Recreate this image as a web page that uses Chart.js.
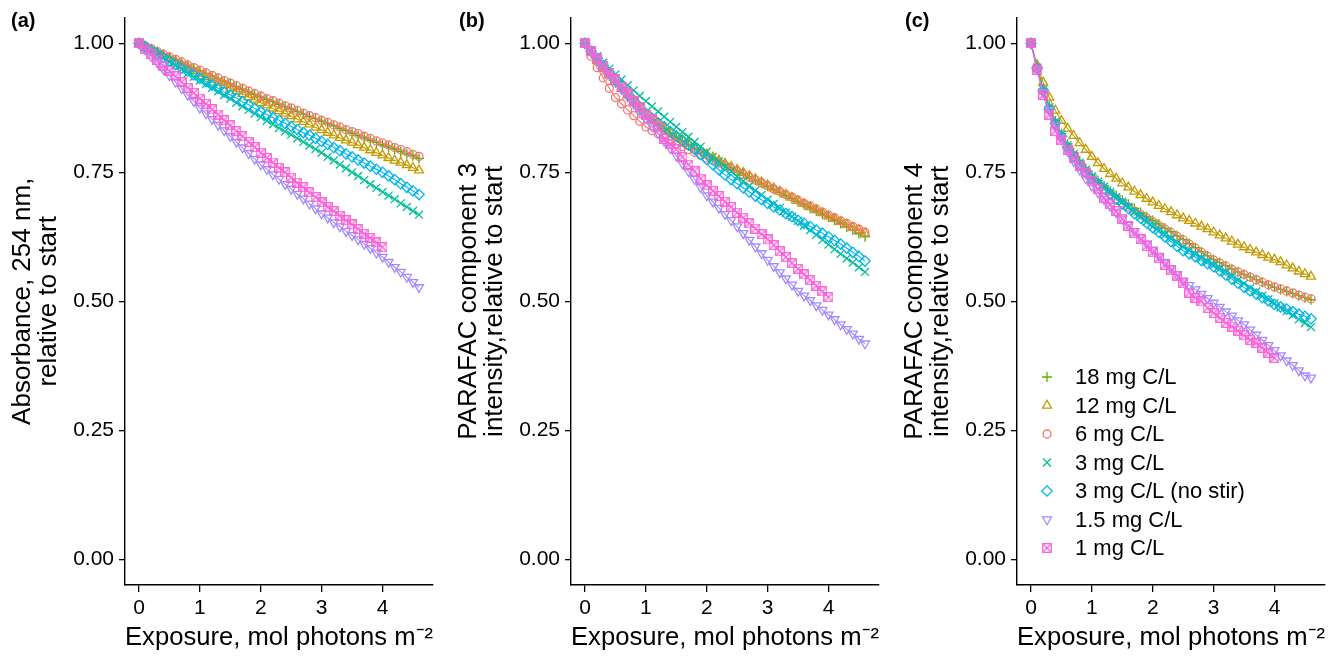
<!DOCTYPE html>
<html>
<head>
<meta charset="utf-8">
<script src="https://cdn.jsdelivr.net/npm/chart.js@4.4.1/dist/chart.umd.min.js"></script>
<style>
  body { margin: 0; background: #fff; width: 1333px; height: 660px; position: relative; overflow: hidden; }
  .panel { position: absolute; top: 0; }
  .tag { position: absolute; top: 8px; font: bold 20px "Liberation Sans", Arial, sans-serif; line-height: 24px; color: #000; }
</style>
</head>
<body>
<canvas id="chartA" class="panel" style="left:0" width="444" height="660"></canvas>
<canvas id="chartB" class="panel" style="left:446px" width="444" height="660"></canvas>
<canvas id="chartC" class="panel" style="left:892px" width="441" height="660"></canvas>
<div class="tag" style="left:11px">(a)</div>
<div class="tag" style="left:459px">(b)</div>
<div class="tag" style="left:905px">(c)</div>
<script>
// ---------- data ----------

const seriesNames = ["18 mg C/L", "12 mg C/L", "6 mg C/L", "3 mg C/L", "3 mg C/L (no stir)", "1.5 mg C/L", "1 mg C/L"];
const seriesColors = ["#53B400", "#C49A00", "#F8766D", "#00C094", "#00B6EB", "#A58AFF", "#FB61D7"];

const xTicks = [0, 1, 2, 3, 4];
const yTicks = [0, 0.25, 0.5, 0.75, 1];

// exposure, mol photons m-2
const exposure = [0, 0.1, 0.2, 0.3, 0.4, 0.5, 0.6, 0.7, 0.8, 0.9, 1.0,
  1.1, 1.2, 1.3, 1.4, 1.5, 1.6, 1.7, 1.8, 1.9, 2.0,
  2.1, 2.2, 2.3, 2.4, 2.5, 2.6, 2.7, 2.8, 2.9, 3.0,
  3.1, 3.2, 3.3, 3.4, 3.5, 3.6, 3.7, 3.8, 3.9, 4.0,
  4.1, 4.2, 4.3, 4.4, 4.5, 4.6];

// (a) absorbance at 254 nm
const absorb18 = [1, .995, .989, .984, .979, .973, .968, .963, .958, .952, .947,
  .942, .937, .932, .927, .922, .916, .911, .906, .901, .896,
  .891, .887, .882, .877, .873, .868, .863, .858, .854, .849,
  .844, .840, .835, .831, .826, .821, .817, .812, .808, .803,
  .799, .795, .790, .786, .782, .777];
const absorb12 = [1, .994, .988, .982, .976, .971, .965, .959, .953, .947, .941,
  .935, .930, .924, .919, .913, .907, .902, .896, .891, .885,
  .880, .874, .869, .864, .859, .853, .848, .843, .837, .832,
  .827, .822, .817, .812, .808, .803, .798, .793, .788, .783,
  .778, .773, .769, .764, .759, .754];
const absorb6 = [1, .995, .990, .984, .979, .974, .969, .964, .958, .953, .948,
  .943, .938, .933, .928, .923, .918, .913, .908, .903, .898,
  .893, .889, .884, .879, .875, .870, .865, .860, .856, .851,
  .847, .842, .838, .833, .829, .825, .820, .816, .811, .807,
  .803, .798, .794, .790, .785, .781];
const absorb3 = [1, .993, .986, .978, .971, .964, .957, .950, .942, .935, .928,
  .921, .914, .907, .900, .893, .885, .878, .871, .864, .857,
  .850, .843, .836, .829, .823, .816, .809, .802, .795, .788,
  .780, .773, .765, .758, .750, .743, .735, .727, .720, .712,
  .705, .698, .690, .683, .675, .668];
const absorb3ns = [1, .993, .986, .980, .973, .966, .959, .952, .946, .939, .932,
  .926, .919, .913, .906, .900, .894, .887, .881, .874, .868,
  .862, .856, .851, .845, .839, .833, .827, .822, .816, .810,
  .804, .798, .792, .786, .780, .774, .768, .762, .756, .750,
  .743, .736, .728, .721, .714, .707];
const absorb15 = [1, .988, .975, .963, .950, .938, .925, .913, .900, .888, .875,
  .864, .853, .842, .831, .820, .809, .798, .787, .776, .765,
  .756, .746, .737, .727, .718, .708, .699, .689, .680, .670,
  .662, .653, .645, .636, .628, .620, .611, .603, .594, .586,
  .576, .566, .557, .547, .537, .527];
const absorb1 = [1, .989, .979, .968, .957, .947, .936, .925, .914, .904, .893,
  .883, .872, .862, .851, .841, .830, .820, .809, .799, .788,
  .778, .769, .759, .750, .740, .730, .721, .711, .702, .692,
  .683, .675, .666, .657, .649, .640, .631, .623, .614, .605];

// (b) PARAFAC component 3
const comp3_18 = [1, .982, .966, .951, .937, .924, .911, .898, .885, .873, .861,
  .852, .843, .835, .826, .818, .811, .804, .797, .790, .783,
  .777, .771, .765, .759, .753, .747, .741, .735, .729, .723,
  .717, .711, .705, .699, .693, .687, .681, .675, .669, .663,
  .657, .651, .644, .638, .631, .625];
const comp3_12 = [1, .982, .966, .951, .938, .925, .912, .899, .887, .874, .862,
  .853, .845, .836, .828, .820, .813, .806, .799, .792, .785,
  .779, .773, .767, .761, .755, .749, .743, .737, .731, .725,
  .719, .713, .707, .701, .695, .689, .683, .677, .671, .665,
  .660, .654, .649, .643, .638, .632];
const comp3_6 = [1, .975, .953, .933, .913, .895, .883, .871, .860, .849, .838,
  .831, .825, .818, .812, .805, .800, .794, .789, .783, .778,
  .773, .768, .762, .757, .752, .746, .741, .735, .730, .724,
  .718, .713, .707, .702, .696, .690, .685, .679, .673, .667,
  .662, .656, .651, .645, .640, .634];
const comp3_3 = [1, .987, .975, .963, .951, .940, .930, .919, .909, .898, .888,
  .878, .868, .858, .848, .838, .828, .819, .809, .800, .790,
  .780, .771, .761, .752, .742, .733, .724, .715, .706, .697,
  .689, .681, .672, .664, .656, .647, .638, .629, .619, .610,
  .601, .592, .583, .575, .566, .557];
const comp3_3ns = [1, .985, .971, .957, .943, .930, .917, .904, .890, .877, .864,
  .855, .846, .838, .829, .820, .812, .803, .795, .785, .775,
  .765, .755, .745, .736, .728, .720, .712, .704, .697, .690,
  .683, .677, .670, .664, .657, .651, .645, .638, .632, .625,
  .618, .611, .603, .595, .587, .578];
const comp3_15 = [1, .985, .970, .955, .940, .925, .911, .897, .883, .869, .855,
  .840, .826, .811, .797, .782, .767, .752, .737, .721, .705,
  .693, .681, .669, .657, .645, .632, .619, .606, .593, .580,
  .568, .556, .544, .532, .520, .511, .502, .492, .483, .474,
  .465, .455, .446, .437, .427, .418];
const comp3_1 = [1, .985, .971, .957, .943, .930, .916, .903, .889, .876, .862,
  .853, .837, .815, .805, .795, .780, .765, .752, .738, .725,
  .714, .704, .693, .683, .672, .662, .651, .641, .630, .620,
  .609, .597, .586, .574, .563, .552, .541, .530, .519, .508];

// (c) PARAFAC component 4
const comp4_18 = [1, .955, .912, .878, .850, .825, .805, .788, .772, .758, .745,
  .734, .724, .714, .705, .696, .688, .680, .672, .664, .657,
  .650, .642, .635, .627, .620, .612, .604, .596, .588, .581,
  .575, .569, .563, .557, .552, .547, .542, .537, .532, .527,
  .523, .519, .515, .511, .507, .503];
const comp4_12 = [1, .958, .924, .895, .870, .850, .835, .821, .807, .794, .780,
  .768, .757, .747, .738, .729, .721, .713, .706, .699, .692,
  .685, .679, .673, .667, .661, .656, .651, .645, .640, .634,
  .628, .622, .616, .610, .605, .600, .595, .590, .585, .581,
  .576, .570, .564, .558, .553, .548];
const comp4_6 = [1, .952, .908, .872, .843, .818, .797, .780, .764, .750, .737,
  .727, .717, .708, .699, .691, .683, .675, .668, .661, .654,
  .647, .640, .633, .626, .619, .611, .603, .595, .587, .580,
  .574, .568, .562, .557, .552, .547, .542, .537, .532, .528,
  .524, .520, .516, .512, .508, .505];
const comp4_3 = [1, .953, .910, .876, .848, .823, .802, .785, .769, .755, .742,
  .732, .722, .712, .702, .693, .683, .673, .664, .654, .645,
  .637, .629, .621, .613, .605, .598, .591, .584, .577, .570,
  .563, .556, .548, .541, .534, .526, .519, .511, .504, .496,
  .488, .481, .473, .465, .458, .450];
const comp4_3ns = [1, .952, .908, .873, .845, .820, .799, .781, .765, .751, .738,
  .728, .718, .708, .698, .689, .680, .670, .661, .652, .643,
  .634, .625, .616, .607, .598, .592, .586, .579, .573, .567,
  .559, .551, .543, .535, .527, .520, .514, .507, .501, .494,
  .489, .485, .480, .475, .471, .466];
const comp4_15 = [1, .950, .905, .870, .840, .814, .792, .772, .755, .738, .724,
  .711, .698, .685, .672, .660, .648, .636, .624, .612, .600,
  .588, .576, .564, .552, .540, .531, .523, .514, .506, .497,
  .489, .480, .472, .463, .455, .445, .435, .425, .415, .405,
  .395, .385, .376, .366, .356, .352];
const comp4_1 = [1, .948, .900, .862, .830, .812, .794, .778, .763, .748, .733,
  .718, .701, .688, .675, .660, .646, .632, .621, .607, .595,
  .583, .571, .560, .550, .535, .517, .507, .500, .487, .477,
  .468, .458, .451, .443, .434, .425, .419, .410, .400, .390];

// ---------- chart setup ----------

const FONT = "'Liberation Sans', Arial, Helvetica, sans-serif";
Chart.defaults.font.family = FONT;
Chart.defaults.color = "#000";

function boxCross(color) {
  const c = document.createElement("canvas");
  c.width = 10;
  c.height = 10;
  const g = c.getContext("2d");
  g.strokeStyle = color;
  g.lineWidth = 1.3;
  g.strokeRect(0.7, 0.7, 8.6, 8.6);
  g.beginPath();
  g.moveTo(1.5, 1.5); g.lineTo(8.5, 8.5);
  g.moveTo(8.5, 1.5); g.lineTo(1.5, 8.5);
  g.stroke();
  return c;
}

const seriesShapes = ["cross", "triangle", "circle", "crossRot", "rectRot", "triangle", boxCross(seriesColors[6])];
const seriesRotation = [0, 0, 0, 0, 0, 180, 0];
const seriesRadius = [5, 5.2, 4, 5.6, 5.2, 5.2, 5];

function buildDatasets(valueLists) {
  return valueLists.map((vals, i) => ({
    label: seriesNames[i],
    data: vals.map((v, k) => ({ x: exposure[k], y: v })),
    showLine: true,
    borderColor: seriesColors[i],
    borderWidth: 1.1,
    pointBorderColor: seriesColors[i],
    pointBackgroundColor: "rgba(0,0,0,0)",
    pointBorderWidth: 1.3,
    pointStyle: seriesShapes[i],
    pointRotation: seriesRotation[i],
    pointRadius: seriesRadius[i],
    fill: false,
    tension: 0,
    order: valueLists.length - i
  }));
}

const insideLegend = {
  id: "insideLegend",
  afterDraw(chart, args, opts) {
    if (!opts.show) return;
    const ctx = chart.ctx;
    ctx.save();
    ctx.font = "22px " + FONT;
    ctx.textBaseline = "middle";
    ctx.textAlign = "left";
    seriesNames.forEach((name, i) => {
      const y = opts.top + i * opts.step;
      ctx.strokeStyle = seriesColors[i];
      ctx.fillStyle = "rgba(0,0,0,0)";
      ctx.lineWidth = 1.3;
      Chart.helpers.drawPoint(ctx, {
        pointStyle: seriesShapes[i],
        radius: seriesRadius[i],
        rotation: seriesRotation[i],
        borderWidth: 1.3
      }, opts.symbolX, y);
      ctx.fillStyle = "#000";
      ctx.fillText(name, opts.textX, y + 1);
    });
    ctx.restore();
  }
};

function makeChart(id, yTitle, valueLists, rightPad, legend) {
  return new Chart(document.getElementById(id), {
    type: "scatter",
    data: { datasets: buildDatasets(valueLists) },
    plugins: [insideLegend],
    options: {
      responsive: false,
      animation: false,
      events: [],
      layout: { padding: { top: 17, right: rightPad, left: 0, bottom: 0 } },
      plugins: {
        legend: { display: false },
        tooltip: { enabled: false },
        insideLegend: legend
      },
      scales: {
        x: {
          type: "linear",
          min: -0.23,
          max: 4.83,
          afterBuildTicks: (s) => { s.ticks = xTicks.map((v) => ({ value: v })); },
          afterFit: (s) => { s.height = 75; },
          grid: { drawOnChartArea: false, color: "#000", lineWidth: 1.3, tickLength: 7 },
          border: { color: "#000", width: 1.4 },
          ticks: { color: "#000", font: { size: 21 }, padding: 4, maxRotation: 0 },
          title: {
            display: true,
            text: "Exposure, mol photons m\u207B\u00B2",
            font: { size: 26 },
            color: "#000",
            padding: { top: 0, bottom: 7 }
          }
        },
        y: {
          type: "linear",
          min: -0.05,
          max: 1.05,
          afterBuildTicks: (s) => { s.ticks = yTicks.map((v) => ({ value: v })); },
          afterFit: (s) => { s.width = 125; },
          grid: { drawOnChartArea: false, color: "#000", lineWidth: 1.3, tickLength: 6 },
          border: { color: "#000", width: 1.4 },
          ticks: { color: "#000", font: { size: 21 }, padding: 5, callback: (v) => v.toFixed(2) },
          title: {
            display: true,
            text: yTitle,
            font: { size: 26, lineHeight: 1 },
            color: "#000",
            padding: { top: 10, bottom: 0 }
          }
        }
      }
    }
  });
}

makeChart("chartA", ["Absorbance, 254 nm,", "relative to start"],
  [absorb18, absorb12, absorb6, absorb3, absorb3ns, absorb15, absorb1], 11, { show: false });
makeChart("chartB", ["PARAFAC component 3", "intensity,relative to start"],
  [comp3_18, comp3_12, comp3_6, comp3_3, comp3_3ns, comp3_15, comp3_1], 11, { show: false });
makeChart("chartC", ["PARAFAC component 4", "intensity,relative to start"],
  [comp4_18, comp4_12, comp4_6, comp4_3, comp4_3ns, comp4_15, comp4_1], 8,
  { show: true, symbolX: 155, textX: 183, top: 377, step: 28.5 });
</script>
</body>
</html>
